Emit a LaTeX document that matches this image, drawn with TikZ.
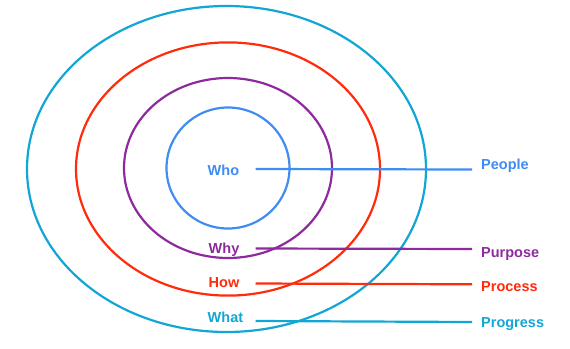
\documentclass[tikz,border=0pt]{standalone}
\usepackage{fontspec}
\setmainfont{Liberation Sans}
\definecolor{cwho}{HTML}{3F8CF3}
\definecolor{cwhy}{HTML}{8E2A9E}
\definecolor{chow}{HTML}{FF2B0A}
\definecolor{cwhat}{HTML}{12A6D6}
\begin{document}
\begin{tikzpicture}[x=1pt,y=-1pt,
  ring/.style={line width=2.2pt},
  lab/.style={inner sep=0pt,font=\fontsize{14.5}{16}\selectfont\bfseries},
  conn/.style={line width=2.2pt}]
\useasboundingbox (0,0) rectangle (570,348);
% rings
\draw[ring,cwhat] (226.5,169) ellipse [x radius=199.5, y radius=163];
\draw[ring,chow] (228,169) ellipse [x radius=152, y radius=126.6];
\draw[ring,cwhy] (228,168) ellipse [x radius=104, y radius=90];
\draw[ring,cwho] (228,168) ellipse [x radius=61.5, y radius=60.5];
% left labels
\node[lab,cwho,anchor=base west] (who) at (207.5,175) {Who};
\node[lab,cwhy,anchor=base west] (why) at (208.5,253) {Why};
\node[lab,chow,anchor=base west] (how) at (208.5,287) {How};
\node[lab,cwhat,anchor=base west] (what) at (207.5,322.7) {What};
% right labels
\node[lab,cwho,anchor=base west] (people) at (481,169.5) {People};
\node[lab,cwhy,anchor=base west] (purpose) at (481,257.5) {Purpose};
\node[lab,chow,anchor=base west] (process) at (481,291.5) {Process};
\node[lab,cwhat,anchor=base west] (progress) at (481,327) {Progress};
% connectors
\coordinate (whoS) at (255.5,169); \coordinate (whoE) at (472,169.5);
\coordinate (whyS) at (255.5,248.5); \coordinate (whyE) at (472,249);
\coordinate (howS) at (255.5,283.5); \coordinate (howE) at (472,284.3);
\coordinate (whatS) at (255.5,321); \coordinate (whatE) at (472,322);
\draw[conn,cwho] (whoS) -- (whoE);
\draw[conn,cwhy] (whyS) -- (whyE);
\draw[conn,chow] (howS) -- (howE);
\draw[conn,cwhat] (whatS) -- (whatE);
\end{tikzpicture}
\end{document}
